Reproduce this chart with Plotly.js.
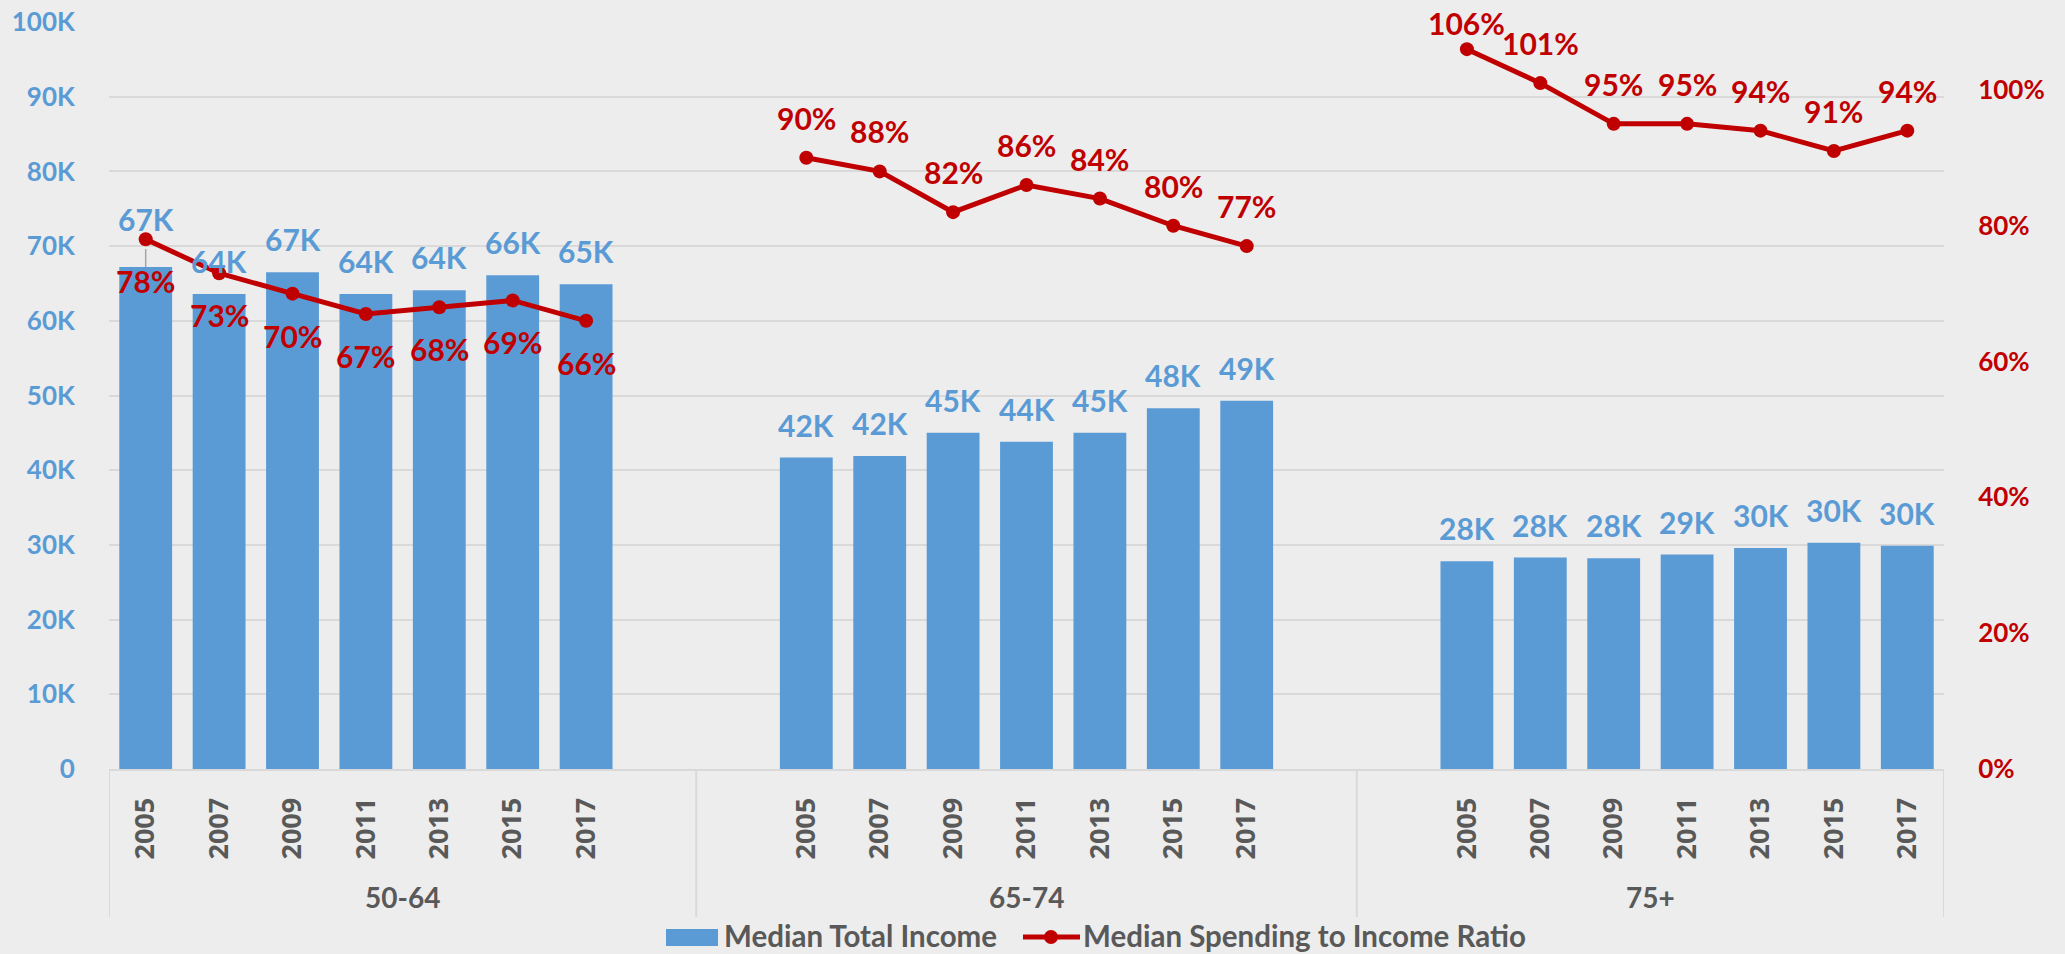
<!DOCTYPE html>
<html>
<head>
<meta charset="utf-8">
<script src="https://cdn.plot.ly/plotly-3.0.1.min.js"></script>
<style>html,body{margin:0;padding:0;background:#EDEDED;}#chart{width:2065px;height:954px;}</style>
</head>
<body>
<div id="chart"></div>
<script>
// ---- data ----
const groups = ['50-64', '65-74', '75+'];
const years = ['2005', '2007', '2009', '2011', '2013', '2015', '2017'];
const income5064 = [67200, 63600, 66500, 63600, 64100, 66100, 64900];
const income6574 = [41700, 41900, 45000, 43800, 45000, 48300, 49300];
const income75 = [27800, 28300, 28200, 28700, 29600, 30300, 29900];
const ratio5064 = [0.78, 0.73, 0.70, 0.67, 0.68, 0.69, 0.66];
const ratio6574 = [0.90, 0.88, 0.82, 0.86, 0.84, 0.80, 0.77];
const ratio75 = [1.06, 1.01, 0.95, 0.95, 0.94, 0.91, 0.94];
const incomeTicks = [0, 10000, 20000, 30000, 40000, 50000, 60000, 70000, 80000, 90000, 100000];
const incomeTickText = ['0', '10K', '20K', '30K', '40K', '50K', '60K', '70K', '80K', '90K', '100K'];
const ratioTicks = [0, 0.2, 0.4, 0.6, 0.8, 1.0];
const seriesNames = ['Median Total Income', 'Median Spending to Income Ratio'];

// ---- layout helpers (blank category slots around groups, as in the source) ----
const incomeByGroup = [income5064, income6574, income75];
const ratioByGroup = [ratio5064, ratio6574, ratio75];
const leadBlank = [0, 1, 1];
const trailBlank = [1, 1, 0];

const C_BAR = '#5B9BD5', C_LINE = '#C00000', C_TXT = '#595959', C_GRID = '#D9D9D9', BG = '#EDEDED';
const FONT = 'Lato, "Open Sans", "Liberation Sans", sans-serif';

let slot = 0;
const barX = [], barY = [], lineX = [], lineY = [], tickVals = [], tickText = [];
const groupBounds = [];
const annotations = [];
const ratioShift = [-42, 40, 40];
groups.forEach((g, gi) => {
  const start = slot;
  slot += leadBlank[gi];
  years.forEach((yr, i) => {
    const inc = incomeByGroup[gi][i], r = ratioByGroup[gi][i];
    barX.push(slot); barY.push(inc);
    lineX.push(slot); lineY.push(r);
    tickVals.push(slot); tickText.push(yr);
    let incShift = 33;
    if (gi === 0 && i === 0) incShift = 48;
    annotations.push({x: slot, y: inc, xref: 'x', yref: 'y', text: Math.round(inc / 1000) + 'K',
      showarrow: false, yanchor: 'middle', yshift: incShift,
      font: {family: FONT, size: 30, color: C_BAR, weight: 'bold'}});
    let rShift = ratioShift[gi];
    if (r > 1.05) rShift = 26;
    annotations.push({x: slot, y: r, xref: 'x', yref: 'y2', text: Math.round(r * 100) + '%',
      showarrow: false, yanchor: 'middle', yshift: rShift,
      font: {family: FONT, size: 30, color: C_LINE, weight: 'bold'}});
    slot++;
  });
  slot += trailBlank[gi];
  groupBounds.push([start - 0.5, slot - 0.5]);
  lineX.push(null); lineY.push(null);
});
const nSlots = slot;

// paper helpers for below-axis elements (plot: top 22, bottom 769 px, left 109, right 1944 px)
const PT = 22, PB = 769, PL = 109, PR = 1944;
const py = p => (PB - p) / (PB - PT);
const px = p => (p - PL) / (PR - PL);

const shapes = [];
groupBounds.forEach((b, gi) => {
  annotations.push({x: (b[0] + b[1]) / 2, y: py(897), xref: 'x', yref: 'paper', text: groups[gi],
    showarrow: false, yanchor: 'middle', font: {family: FONT, size: 28, color: C_TXT, weight: 'bold'}});
});
const seps = [groupBounds[0][0]].concat(groupBounds.map(b => b[1]));
seps.forEach(s => shapes.push({type: 'line', xref: 'x', yref: 'paper', x0: s, x1: s, y0: 0, y1: py(917),
  line: {color: C_GRID, width: 2}, layer: 'above'}));
// leader line from first bar to its moved label
shapes.push({type: 'line', xref: 'x', yref: 'y', xsizemode: 'scaled', ysizemode: 'pixel',
  yanchor: barY[0], x0: barX[0], x1: barX[0], y0: 0, y1: 18, line: {color: '#A6A6A6', width: 1.5}, layer: 'above'});

// custom legend
shapes.push({type: 'rect', xref: 'paper', yref: 'paper', x0: px(666), x1: px(718), y0: py(929), y1: py(946),
  fillcolor: C_BAR, line: {width: 0}});
shapes.push({type: 'line', xref: 'paper', yref: 'paper', x0: px(1023), x1: px(1080), y0: py(937), y1: py(937),
  line: {color: C_LINE, width: 5}});
shapes.push({type: 'circle', xref: 'paper', yref: 'paper', x0: px(1044), x1: px(1058), y0: py(930), y1: py(944),
  fillcolor: C_LINE, line: {width: 0}});
annotations.push({x: px(722), y: py(935), xref: 'paper', yref: 'paper', xanchor: 'left', yanchor: 'middle',
  text: seriesNames[0], showarrow: false, font: {family: FONT, size: 29.5, color: C_TXT, weight: 'bold'}});
annotations.push({x: px(1081), y: py(935), xref: 'paper', yref: 'paper', xanchor: 'left', yanchor: 'middle',
  text: seriesNames[1], showarrow: false, font: {family: FONT, size: 29.5, color: C_TXT, weight: 'bold'}});

const traces = [
  {type: 'bar', x: barX, y: barY, name: seriesNames[0], marker: {color: C_BAR}, hoverinfo: 'skip'},
  {type: 'scatter', mode: 'lines+markers', x: lineX, y: lineY, yaxis: 'y2', name: seriesNames[1],
   connectgaps: false, line: {color: C_LINE, width: 5}, marker: {color: C_LINE, size: 14}, hoverinfo: 'skip'}
];

const layout = {
  width: 2065, height: 954,
  margin: {l: PL, r: 2065 - PR, t: PT, b: 954 - PB},
  paper_bgcolor: BG, plot_bgcolor: BG,
  showlegend: false,
  bargap: 0.28,
  xaxis: {range: [-0.5, nSlots - 0.5], tickvals: tickVals, ticktext: tickText, tickangle: -90,
    showgrid: false, zeroline: false, showline: true, linecolor: C_GRID, linewidth: 2,
    ticks: 'outside', ticklen: 16, tickcolor: 'rgba(0,0,0,0)',
    tickfont: {family: '"Open Sans", sans-serif', size: 27, color: C_TXT, weight: 'bold'}},
  yaxis: {range: [0, 100000], tickvals: incomeTicks, ticktext: incomeTickText,
    showgrid: true, gridcolor: C_GRID, gridwidth: 2, zeroline: false, showline: false,
    ticks: 'outside', ticklen: 28, tickcolor: 'rgba(0,0,0,0)',
    tickfont: {family: FONT, size: 26, color: C_BAR, weight: 'bold'}},
  yaxis2: {range: [0, 1.1], overlaying: 'y', side: 'right', tickvals: ratioTicks, tickformat: '.0%',
    showgrid: false, zeroline: false, showline: false,
    ticks: 'outside', ticklen: 28, tickcolor: 'rgba(0,0,0,0)',
    tickfont: {family: FONT, size: 26, color: C_LINE, weight: 'bold'}},
  annotations: annotations,
  shapes: shapes
};

Plotly.newPlot('chart', traces, layout, {displayModeBar: false, staticPlot: true});
</script>
</body>
</html>
